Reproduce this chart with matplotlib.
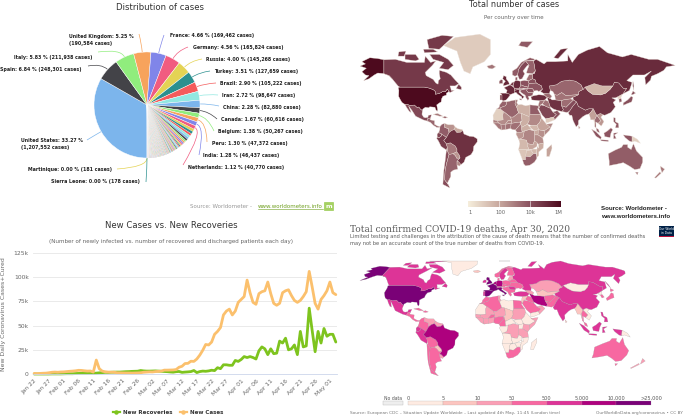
import numpy as np
import matplotlib
matplotlib.use('Agg')
import matplotlib.pyplot as plt
from matplotlib.colors import LinearSegmentedColormap
from matplotlib.patches import Polygon, PathPatch, Rectangle
from matplotlib.path import Path

W, H = 685, 416

# pie data: percent of world cases
pie_labels = ['United States: 33.27 %\n(1,207,552 cases)', 'Spain: 6.84 % (248,301 cases)',
              'Italy: 5.83 % (211,938 cases)', 'United Kingdom: 5.25 %\n(190,584 cases)',
              'France: 4.66 % (169,462 cases)', 'Germany: 4.56 % (165,824 cases)',
              'Russia: 4.00 % (145,268 cases)', 'Turkey: 3.51 % (127,659 cases)',
              'Brazil: 2.90 % (105,222 cases)', 'Iran: 2.72 % (98,647 cases)',
              'China: 2.28 % (82,880 cases)', 'Canada: 1.67 % (60,616 cases)',
              'Belgium: 1.38 % (50,267 cases)', 'Peru: 1.30 % (47,372 cases)',
              'India: 1.28 % (46,437 cases)', 'Netherlands: 1.12 % (40,770 cases)']
pie_pct = [33.27, 6.84, 5.83, 5.25, 4.66, 4.56, 4.00, 3.51, 2.90, 2.72, 2.28, 1.67, 1.38, 1.30, 1.28, 1.12]
other_pct = [.80, .78, .72, .70, .62, .58, .52, .50, .46, .42,
             .38, .36, .34, .32, .30, .28, .27, .26, .25, .24,
             .23, .22, .21, .20, .19, .18, .17, .16, .15, .14,
             .13, .12, .11, .10, .10, .09, .09, .09, .09, .09,
             .09, .09, .09, .09, .09, .08, .08, .08, .08, .08,
             .08, .08, .08, .08, .08, .08, .08, .08, .08, .08,
             .07, .07, .07, .07, .07, .07, .07, .07, .07, .07,
             .07, .07, .07, .07, .07, .07, .07, .07, .07, .07,
             .06, .06, .06, .06, .06, .06, .06, .06, .06, .06,
             .06, .06, .06, .06, .06, .06, .06, .06, .06, .06,
             .05, .05, .05, .05, .05, .05, .05, .05, .05, .05,
             .05, .05, .05, .05, .05, .03, .03, .03, .03, .03,
             .03, .03, .03, .03, .03, .03, .03, .03, .03, .03]
tail_labels = ['Martinique: 0.00 % (181 cases)', 'Sierra Leone: 0.00 % (178 cases)']
tail_pct = [0.005, 0.005]
highcharts = ['#7cb5ec', '#434348', '#90ed7d', '#f7a35c', '#8085e9', '#f15c80', '#e4d354', '#2b908f', '#f45b5b', '#91e8e1']

# where the pie labels sit: x, y, ha, then the end of the connector
label_x = [21, 82, 92, 69, 170, 193, 206, 214, 220, 222, 223, 221, 218, 212, 203, 188, 112, 140]
label_y = [144.5, 69, 57, 40, 36, 48, 60, 72, 84, 96, 107.5, 119.5, 131, 143, 155, 167, 170, 182]
label_ha = ['left', 'right', 'right', 'left', 'left', 'left', 'left', 'left', 'left', 'left', 'left',
            'left', 'left', 'left', 'left', 'left', 'right', 'right']
conn_x = [87, 88, 98, 139, 164, 188, 202, 210, 216, 218, 219, 217, 214, 207, 199, 183, 117, 146]
conn_y = [140, 66, 52, 34, 35, 47, 59, 71, 83, 95, 106, 119, 131, 142, 155, 165, 169, 182]

# daily numbers in thousands, Jan 22 to May 3
new_recoveries = [0, 0, 0, 0, 0, 0, .1, .1, .1, .1,
                  .2, .3, .3, .3, .5, .6, .7, .7, .7, .8, .7, .9, 1.2, 1.4, 1.7, 1.6, 1.8, 1.9, 2.0, 2.0,
                  2.2, 2.4, 2.5, 2.7, 2.8, 2.9, 3.6, 3.2, 3.0,
                  3.0, 3.1, 3.2, 3.0, 2.8, 2.6, 2.4, 2.1, 1.9, 2.4, 2.6, 1.7, 2.0, 2.2, 2.5, 3.6, 1.5, 2.5, 3.0, 2.8,
                  3.2, 3.9, 3.5, 6.5, 5.5, 9.5, 9.5, 9.0, 9.0, 14, 13,
                  15, 18, 17, 18, 17, 15.5, 24, 28, 26, 20, 26, 21, 21.5, 34, 32, 37, 25, 26, 30, 20,
                  44, 28, 29, 68, 45, 23, 44, 32, 47, 39,
                  41, 41, 33]
new_cases = [.6, .4, .6, .8, .9, 1.3, 1.8, 2.0, 1.8, 2.1,
             2.2, 2.5, 2.8, 3.0, 3.3, 3.8, 3.7, 3.3, 3.0, 3.1, 2.0, 14.4, 5.5, 3.0, 2.3, 2.0, 1.9, 1.9, 1.3, 1.2,
             1.1, 1.0, 1.0, .9, 1.0, 1.1, 1.3, 1.8, 2.0,
             2.2, 2.1, 2.5, 2.7, 3.0, 4.0, 4.0, 4.1, 4.2, 4.6, 7.0, 8.0, 10.8, 11.0, 13.2, 13.0, 15.5, 19.5, 24.5, 30.5,
             30, 33, 41, 44, 48, 61, 65, 67, 61, 65, 74,
             77, 80, 97, 84, 74, 72, 83, 85, 86, 95, 83, 73, 71, 73, 84, 86, 87, 81, 76, 74,
             76, 80, 85, 106, 90, 73, 67, 77, 81, 86,
             95, 84, 82]
date_labels = ['Jan 22', 'Jan 27', 'Feb 01', 'Feb 06', 'Feb 11', 'Feb 16', 'Feb 21', 'Feb 26', 'Mar 02', 'Mar 07',
               'Mar 12', 'Mar 17', 'Mar 22', 'Mar 27', 'Apr 01', 'Apr 06', 'Apr 11', 'Apr 16', 'Apr 21', 'Apr 26', 'May 01']
y_ticks = [0, 25, 50, 75, 100, 125]
y_labels = ['0', '25k', '50k', '75k', '100k', '125k']

# rough country outlines (lon, lat), then cases and death bin per name
outlines = {
    'USA': [(-124.7, 48.4), (-123, 49), (-95, 49), (-89, 48), (-84.5, 46.5), (-82.5, 45), (-82.5, 42.5), (-79, 43), (-76, 44), (-74.5, 45), (-71, 45), (-69, 47.3), (-67, 45), (-70, 43.5), (-70, 41.7), (-74, 40.5), (-75.5, 38), (-76, 35), (-78, 34), (-81, 32), (-80, 27), (-80.5, 25.2), (-82, 27), (-83, 29.5), (-85, 29.7), (-89, 30), (-90, 29), (-94, 29.5), (-97, 27.5), (-97.2, 26), (-99.5, 27.5), (-101.5, 29.8), (-103, 29), (-106.5, 31.8), (-111, 31.3), (-114.8, 32.5), (-117.2, 32.5), (-120.5, 34.5), (-122.5, 37.5), (-124.3, 40.5), (-124, 46)],
    'Alaska': [(-141, 69.7), (-141, 60), (-135, 58.5), (-131, 55.5), (-134, 58), (-140, 60), (-148, 60.5), (-152, 59), (-158, 56), (-164, 54.5), (-158, 58.5), (-162, 59), (-166, 61.5), (-161, 64), (-168, 65.5), (-162, 67), (-166, 68.5), (-157, 71), (-148, 70.5)],
    'Canada': [(-141, 69.7), (-128, 70), (-115, 68), (-95, 68), (-94, 72), (-88, 68), (-82, 69), (-86, 66), (-94, 61), (-93, 58.5), (-85, 55.5), (-82, 52.5), (-79.5, 51.5), (-79, 54.5), (-77, 56), (-78, 60), (-78, 62.5), (-70, 61), (-65, 59), (-60, 55), (-56, 52), (-60, 50), (-66, 50), (-65, 48), (-64.5, 46), (-61, 46), (-66, 44), (-67, 45), (-69, 47.3), (-71, 45), (-74.5, 45), (-76, 44), (-79, 43), (-82.5, 42.5), (-82.5, 45), (-84.5, 46.5), (-89, 48), (-95, 49), (-123, 49), (-125, 50), (-130, 54.5), (-131, 55.5), (-135, 58.5), (-141, 60)],
    'Baffin': [(-62, 66), (-68, 63), (-78, 64), (-73, 68), (-85, 70), (-89, 73), (-78, 73), (-68, 70)],
    'Victoria': [(-117, 70), (-105, 69), (-101, 70), (-105, 73), (-117, 73)],
    'Ellesmere': [(-90, 76.5), (-78, 76), (-62, 82.5), (-75, 83), (-92, 81)],
    'Banks': [(-125, 72), (-118, 72), (-116, 75), (-124, 74.5)],
    'Devon': [(-95, 74), (-80, 74.5), (-85, 76), (-96, 76)],
    'Newfoundland': [(-59, 47.7), (-53, 46.7), (-53, 49), (-56, 51.5)],
    'Greenland': [(-73, 78), (-60, 82), (-32, 83.5), (-20, 81), (-20, 73), (-27, 68.5), (-40, 65), (-43, 60), (-50, 62), (-54, 68), (-58, 75)],
    'Mexico': [(-117.2, 32.5), (-114.8, 32.5), (-111, 31.3), (-106.5, 31.8), (-103, 29), (-101.5, 29.8), (-99.5, 27.5), (-97.2, 26), (-97.8, 22), (-96, 19), (-94, 18.2), (-91, 18.7), (-90.5, 21), (-87, 21.5), (-88, 18), (-91, 17.5), (-92, 14.7), (-96, 15.8), (-105, 20), (-109, 26), (-113, 31), (-110, 24), (-112, 25), (-115, 29)],
    'CentralAm': [(-92, 14.7), (-91, 17.5), (-88, 18), (-88.5, 16), (-83.5, 15), (-83.5, 11), (-80, 9), (-77.3, 8.5), (-78, 7.5), (-81, 7.5), (-85, 10), (-88, 13)],
    'Cuba': [(-85, 22), (-80, 23), (-74, 20), (-78, 20)],
    'Hispaniola': [(-74.5, 18.5), (-72, 20), (-68.5, 18.5), (-71.5, 17.8)],
    'Colombia': [(-77.3, 8.5), (-75, 11), (-72, 12), (-72, 7.5), (-67.5, 6), (-67, 1.5), (-70, -4), (-72, -2.5), (-75.5, 0), (-78.8, 1.5), (-77.5, 5)],
    'Venezuela': [(-72, 12), (-68, 10.5), (-62, 10.5), (-60, 8), (-61, 5), (-64, 4), (-67, 1.5), (-67.5, 6), (-72, 7.5)],
    'Guianas': [(-60, 8), (-57, 6), (-52, 5), (-51.5, 4), (-54, 2), (-58, 1.5), (-60, 4), (-61, 5)],
    'Ecuador': [(-78.8, 1.5), (-75.5, 0), (-75.5, -2), (-78.5, -4.5), (-80.5, -3), (-80.5, 0)],
    'Peru': [(-80.5, -3.5), (-78.5, -4.5), (-75.5, -2), (-75.5, 0), (-72, -2.5), (-70, -4), (-73, -7.5), (-70, -11), (-69, -15), (-70, -18), (-76, -14), (-79, -8), (-81, -5)],
    'Bolivia': [(-70, -11), (-65.5, -10), (-60, -13.5), (-58, -17), (-58, -20), (-62.5, -22), (-67, -23), (-69, -19), (-69, -15)],
    'Paraguay': [(-62.5, -22), (-58, -20), (-55, -24), (-54.5, -26.5), (-58, -27.2), (-60, -24)],
    'Uruguay': [(-58, -30.5), (-56, -30.5), (-53.5, -33), (-55, -35), (-58, -34)],
    'Brazil': [(-70, -4), (-67, 1.5), (-64, 4), (-61, 5), (-60, 4), (-58, 1.5), (-54, 2), (-51.5, 4), (-50, 0), (-44, -2.5), (-39, -3), (-35, -5.5), (-35, -9), (-39, -14), (-39.5, -19), (-42, -23), (-48, -26), (-50, -31), (-53.5, -33.5), (-56, -30.5), (-58, -30), (-54.5, -26.5), (-55, -24), (-58, -20), (-58, -17), (-60, -13.5), (-65.5, -10), (-70, -11), (-73, -7.5)],
    'Chile': [(-70, -18), (-69, -19), (-67, -23), (-70, -33), (-71.5, -40), (-72, -48), (-68, -52), (-66, -55), (-74, -52), (-73, -40), (-71.5, -30)],
    'Argentina': [(-67, -23), (-62.5, -22), (-60, -24), (-58, -27.2), (-54.5, -26.5), (-58, -30), (-58, -34), (-57, -38), (-62, -39), (-65, -41), (-65, -45), (-69, -51), (-68, -52), (-72, -48), (-71.5, -40), (-70, -33)],
    'Morocco': [(-13, 27.7), (-8.7, 27.7), (-8.7, 29), (-3, 31), (-1.5, 33), (-2, 35), (-6, 35.8), (-9.5, 32), (-10, 29.5)],
    'Mauritania': [(-17, 21), (-13, 27.7), (-8.7, 27.7), (-5, 25), (-6, 21), (-5.5, 16), (-12, 15), (-16.5, 16)],
    'Algeria': [(-8.7, 27.7), (-8.7, 29), (-3, 31), (-1.5, 33), (-2, 35), (8.5, 37), (8, 33), (9.8, 30), (12, 23.5), (6, 19), (3, 19), (-5, 25)],
    'Tunisia': [(8.5, 37), (11, 37), (10, 34), (11.5, 32), (9.8, 30), (8, 33)],
    'Libya': [(11.5, 32), (15, 32.5), (20, 31), (25, 32), (25, 20), (24, 19.5), (15, 23), (12, 23.5), (9.8, 30)],
    'Egypt': [(25, 32), (31, 31.5), (34, 31), (35, 28), (33.5, 28), (37, 22), (25, 22)],
    'Mali': [(-12, 15), (-5.5, 16), (-6, 21), (-5, 25), (3, 19), (4, 15), (0, 15), (-3, 11), (-8, 11), (-11, 12.5)],
    'Niger': [(4, 15), (3, 19), (6, 19), (12, 23.5), (15, 23), (16, 15), (13.5, 13.5), (3.5, 12)],
    'Chad': [(15, 23), (24, 19.5), (24, 15), (22, 11), (15.5, 7.5), (14, 12.5), (16, 15)],
    'Sudan': [(24, 19.5), (25, 22), (37, 22), (38, 18), (36, 13), (33, 10), (27, 9.5), (22, 11), (24, 15)],
    'SouthSudan': [(27, 9.5), (33, 10), (35, 5), (30, 3.5), (24, 8.5)],
    'Ethiopia': [(36, 13), (38, 18), (43, 12), (48, 8), (42, 4), (36, 4.5), (35, 5), (33, 10)],
    'Somalia': [(43, 11), (51, 12), (47, 4), (41.5, -1.5), (41, 3.5), (48, 8)],
    'Kenya': [(35, 5), (36, 4.5), (41, 3.5), (41.5, -1.5), (39.5, -4.5), (34, -1), (34, 4)],
    'Tanzania': [(30, -1), (34, -1), (39.5, -4.5), (40.5, -10.5), (34.5, -11.5), (30, -8)],
    'Uganda': [(30, 3.5), (35, 5), (34, -1), (30, -1)],
    'DRC': [(12.2, -6), (17, -4), (18.5, 3.5), (24, 5), (30, 3.5), (30, -8), (28.5, -12), (22, -11), (21, -7), (13, -6)],
    'Angola': [(12, -5), (13, -6), (21, -7), (22, -11), (22, -13), (24, -17.5), (12, -17.5), (13.5, -11)],
    'Zambia': [(22, -11), (28.5, -12), (30, -8), (33, -9.5), (33, -14), (28, -17), (24, -17.5), (22, -13)],
    'Namibia': [(12, -17.5), (24, -17.5), (21, -18.5), (20, -28.5), (16.5, -28.5)],
    'Botswana': [(21, -18.5), (26, -18), (29, -22), (25, -25.5), (20, -25)],
    'Zimbabwe': [(26, -18), (28, -17), (33, -17), (32.5, -21), (29, -22)],
    'Mozambique': [(34.5, -11.5), (40.5, -10.5), (40, -16), (35, -20), (35, -24), (32.8, -26), (32.5, -21), (33, -17), (33, -14), (35, -16)],
    'SouthAfrica': [(16.5, -28.5), (20, -28.5), (20, -25), (25, -25.5), (29, -22), (32, -22), (32.8, -27), (30, -31), (25, -34), (20, -34.8), (18, -33)],
    'Madagascar': [(49.5, -12), (50, -16), (47, -25), (44, -25), (44, -17)],
    'Nigeria': [(3, 6.3), (3.5, 12), (13.5, 13.5), (14, 11), (8.5, 4.6), (5, 5)],
    'Cameroon': [(8.5, 4.6), (14, 11), (14, 12.5), (15.5, 7.5), (16, 2), (10, 2)],
    'CAR': [(15.5, 7.5), (22, 11), (27, 5), (24, 5), (18.5, 3.5), (16, 2.5)],
    'Gabon': [(9, 0), (10, 2), (16, 2), (18.5, 3.5), (17, -4), (12.2, -6)],
    'Senegal': [(-17, 15), (-16.5, 16), (-12, 15), (-11, 12.5), (-16.5, 12.5)],
    'Guinea': [(-16.5, 12.5), (-11, 12.5), (-8, 11), (-7.5, 4.5), (-11, 6.5), (-13.5, 9.5)],
    'Ivory': [(-8, 11), (-3, 11), (-3, 5), (-7.5, 4.5)],
    'Burkina': [(-3, 11), (0, 15), (4, 15), (3.5, 12)],
    'Ghana': [(-3, 11), (3.5, 12), (3, 6.3), (-3, 5)],
    'Saudi': [(35, 28), (37, 32), (42, 31), (48, 28.5), (51, 24.5), (55, 22), (52, 19), (43, 17), (39, 21)],
    'Yemen': [(43, 17), (52, 19), (53, 16), (45, 12.8), (43, 13)],
    'Oman': [(51, 24.5), (56, 26), (59.5, 22.5), (53, 16), (52, 19), (55, 22)],
    'Iraq': [(39, 33), (42, 37), (46, 35.5), (48, 30), (48, 28.5), (42, 31)],
    'Syria': [(35.8, 36), (42, 37), (39, 33), (37, 32), (35, 28), (34.3, 31)],
    'Turkey': [(26, 40), (27, 37), (36, 36.2), (42, 37), (44.5, 39.5), (41.5, 41.5), (35, 42), (29, 41)],
    'Iran': [(44.5, 39.5), (48, 38.5), (50, 37), (54, 37), (61, 36.5), (61, 31), (63, 27), (61.5, 25), (57, 26), (52, 27.5), (48, 30), (46, 35.5)],
    'Afghanistan': [(61, 36.5), (65, 37.5), (71, 38), (74.5, 37), (71, 34), (66, 29.5), (61, 31)],
    'Pakistan': [(61, 31), (66, 29.5), (71, 34), (74.5, 37), (78, 35), (74, 31), (70, 25.5), (67, 24), (61.5, 25), (63, 27)],
    'India': [(74, 31), (78, 35), (80, 30.5), (88, 26.5), (92, 28), (97, 28), (94, 24), (92, 22.5), (88.5, 21.5), (85, 19.5), (80, 15), (80, 11), (77.5, 8), (74, 15), (72.5, 21), (70, 21), (68.5, 23.5), (70, 25.5)],
    'SriLanka': [(80, 9.5), (82, 7), (80.5, 6)],
    'Myanmar': [(92, 22.5), (94, 24), (97, 28), (99, 24), (101, 21), (98.5, 16), (98.5, 10), (97.5, 16), (94, 16), (93, 20)],
    'Thailand': [(98.5, 16), (101, 21), (105.5, 15), (102.5, 12), (100, 13.5), (100, 7), (98.5, 8.5), (99, 13)],
    'Vietnam': [(101, 21), (105, 23), (108, 21.5), (105.5, 19), (109, 14), (106, 9), (102.5, 12), (105.5, 15)],
    'Malaya': [(100, 7), (103, 5), (104, 1.5), (101, 3)],
    'Sumatra': [(95, 5.5), (100, 2.5), (106, -3.5), (105.5, -6), (100, -2.5)],
    'Java': [(105, -6.5), (114, -7), (114, -8.5), (106, -7.8)],
    'Borneo': [(109, 1), (113, 3.5), (117, 7), (119, 5), (117, 1), (116, -4), (110, -3)],
    'Sulawesi': [(120, 1), (125, 1.5), (121, -1), (123, -5), (120, -5.5)],
    'Papua': [(131, -1), (141, -2.5), (141, -9), (138, -8), (133, -4)],
    'PNG': [(141, -2.5), (147, -6), (150.5, -10.5), (144, -8), (141, -9)],
    'Philippines': [(120, 18.5), (122, 18), (122, 14), (125.5, 12), (126, 7), (122, 7), (123, 11), (120, 14)],
    'Honshu': [(131, 34), (136, 37), (140, 40.5), (142, 39.5), (140.5, 35), (136, 33.5), (131, 31.5)],
    'Hokkaido': [(140, 42), (142, 45.5), (145, 43.5), (141.5, 42)],
    'NKorea': [(124.5, 40), (130, 42.5), (128, 38.5), (125, 37.8)],
    'SKorea': [(126, 37.7), (128.5, 38.5), (129.5, 35.5), (126.5, 34.5)],
    'China': [(73.5, 39.5), (80, 42), (80.5, 45), (85.5, 47), (87.5, 49), (91, 45.5), (96, 42.5), (105, 41.8), (111, 43.5), (116, 47), (119, 50), (121, 53.3), (126, 52.5), (131, 48), (135, 48), (131, 43), (124.5, 40), (122, 39), (118, 39), (122.5, 37), (119.5, 34.5), (122, 30), (117, 24), (110, 21), (108, 21.5), (105, 23), (101, 21), (99, 24), (97, 28), (92, 28), (88, 26.5), (80, 30.5), (78, 35), (74.5, 37)],
    'Mongolia': [(87.5, 49), (98, 52), (107, 50), (116, 50), (119, 50), (116, 47), (111, 43.5), (105, 41.8), (96, 42.5), (91, 45.5)],
    'Kazakhstan': [(47, 50), (48, 46), (51, 45), (53, 42), (56, 41.5), (61, 44), (66, 41), (70, 41.5), (80, 42), (80.5, 45), (85.5, 47), (83, 51), (77, 54), (70, 55), (61, 54), (55, 51)],
    'Uzbekistan': [(53, 42), (54, 37), (61, 36.5), (65, 37.5), (71, 38), (73.5, 39.5), (80, 42), (70, 41.5), (66, 41), (61, 44), (56, 41.5)],
    'Caucasus': [(41.5, 41.5), (44.5, 39.5), (48, 38.5), (50, 40.5), (47, 43), (40, 43.5)],
    'Russia': [(28, 56), (28, 60), (30, 60), (31, 62), (29, 69), (32, 70), (41, 67), (44, 68.5), (54, 68.5), (68, 69), (68, 73), (73, 68), (80, 73), (90, 75.5), (104, 77.5), (113, 74), (130, 71.5), (140, 73), (160, 70), (170, 70), (190, 66), (180, 65), (177, 62.5), (170, 60), (163, 58), (162, 55), (156.5, 51), (155.5, 57), (163, 62), (155, 59), (142, 59), (135, 54.5), (141, 53), (138, 46), (131, 43), (135, 48), (131, 48), (126, 52.5), (121, 53.3), (119, 50), (116, 50), (107, 50), (98, 52), (87.5, 49), (85.5, 47), (83, 51), (77, 54), (70, 55), (61, 54), (55, 51), (47, 50), (48, 46), (47, 43), (40, 43.5), (37, 45), (39, 47), (38, 50), (32, 52.5), (31, 55)],
    'Sakhalin': [(142, 54), (143, 50), (143, 46), (141.8, 50)],
    'Novaya': [(52, 71), (57, 70.5), (68, 76.5), (60, 76)],
    'Svalbard': [(12, 78), (22, 77), (28, 80), (15, 80)],
    'Iceland': [(-24, 65.5), (-18, 66.5), (-14, 65), (-18, 63.5), (-22, 64)],
    'Britain': [(-5.5, 50), (1.5, 51.5), (1, 53), (-2, 56), (-2, 57.7), (-5, 58.5), (-6, 56), (-3, 54), (-5, 52)],
    'Ireland': [(-10, 52), (-6, 52.2), (-6, 55), (-8, 55.3), (-10, 54)],
    'Norway': [(5, 59), (8, 58), (11, 59), (12, 63), (15, 66), (20, 69), (29, 69.5), (31, 70), (25, 71), (15, 68), (10, 64), (5, 62)],
    'Sweden': [(11, 59), (13, 55.5), (16, 56), (19, 60), (17, 62), (22, 66), (24, 66), (20, 69), (15, 66), (12, 63)],
    'Finland': [(24, 66), (22, 63), (21, 60.5), (28, 60), (31, 62), (29, 69), (20, 69)],
    'Spain': [(-9, 43.5), (-2, 43.5), (3, 42.3), (0, 39), (-2, 37), (-5.5, 36), (-7, 37), (-7, 42)],
    'Portugal': [(-9, 42), (-7, 42), (-7, 37), (-9, 37)],
    'France': [(-2, 43.5), (3, 42.3), (7.5, 43.7), (7, 48.5), (2.5, 51), (-1.5, 49.5), (-4.5, 48.5), (-1, 46)],
    'Benelux': [(2.5, 51), (6, 50), (7, 53.5), (4.5, 52.8)],
    'Germany': [(6, 50), (7.5, 47.5), (13, 47.6), (14.5, 51), (14, 54), (9, 54.8), (7, 53.5)],
    'Denmark': [(8.2, 55), (10.5, 55), (10.5, 57.5), (8.5, 57)],
    'Austria': [(7, 46), (7.5, 47.5), (13, 47.6), (17, 48), (16, 46.7), (12, 46.8)],
    'Italy': [(7.5, 43.7), (7, 46), (12, 46.8), (13.5, 45.7), (12.3, 44.5), (16, 41.5), (18.5, 40), (16, 38), (15.5, 40), (11, 42.5), (9, 44.3)],
    'Sicily': [(12.5, 38), (15.5, 38), (15, 36.7)],
    'Poland': [(14, 54), (14.5, 51), (19, 49.5), (23, 49), (24, 52), (23, 54.2), (18.5, 54.7)],
    'Czechia': [(13, 47.6), (14.5, 51), (19, 49.5), (23, 49), (22, 47.5), (17, 48)],
    'Baltics': [(21, 55.5), (23, 54.2), (27, 55.7), (28, 56), (28, 59.5), (24, 59.3)],
    'Belarus': [(23, 54.2), (24, 52), (32, 52.5), (31, 55), (28, 56), (27, 55.7)],
    'Ukraine': [(24, 52), (23, 49), (22, 47.5), (28, 47.5), (29.5, 45.5), (33, 46), (35, 45), (39, 47), (38, 50), (32, 52.5)],
    'Romania': [(22, 47.5), (21, 46), (23, 44), (28.5, 43.8), (29.5, 45.2), (28, 47.5)],
    'Balkans': [(13.5, 45.7), (16, 46.7), (22, 47.5), (21, 46), (23, 44), (28.5, 43.8), (28, 41.5), (26, 40.8), (23, 40.5), (24, 38), (22.5, 36.5), (20.5, 39), (19.5, 41.5), (15, 44)],
    'Australia': [(114, -22), (122, -18), (129, -15), (131, -12), (136, -12), (136, -15), (140, -17.5), (142.5, -11), (146, -19), (153, -26), (153, -31), (150, -37.5), (144, -38.5), (138, -35), (131, -31.5), (124, -33), (115, -34.5), (115, -30)],
    'Tasmania': [(144.7, -41), (148, -41), (147, -43.5)],
    'NZNorth': [(173, -35), (178, -38), (175, -41.5), (174, -39)],
    'NZSouth': [(172.5, -40.7), (174, -42), (168, -46.5), (166.5, -46)],
}
cases = {'USA': 1200000, 'Alaska': 1200000, 'Canada': 60000, 'Baffin': 60000, 'Victoria': 60000, 'Ellesmere': 60000, 'Banks': 60000,
         'Devon': 60000, 'Newfoundland': 60000, 'Greenland': 11, 'Mexico': 23000, 'CentralAm': 4000, 'Cuba': 1500, 'Hispaniola': 6000,
         'Colombia': 7000, 'Venezuela': 350, 'Guianas': 100, 'Ecuador': 29000, 'Peru': 47000, 'Bolivia': 1500, 'Paraguay': 300,
         'Uruguay': 650, 'Brazil': 105000, 'Chile': 18000, 'Argentina': 4700, 'Morocco': 5000, 'Mauritania': 8, 'Algeria': 4500,
         'Tunisia': 1000, 'Libya': 60, 'Egypt': 6500, 'Mali': 500, 'Niger': 700, 'Chad': 70, 'Sudan': 600, 'SouthSudan': 40,
         'Ethiopia': 130, 'Somalia': 600, 'Kenya': 400, 'Tanzania': 480, 'Uganda': 85, 'DRC': 700, 'Angola': 35, 'Zambia': 120,
         'Namibia': 16, 'Botswana': 23, 'Zimbabwe': 34, 'Mozambique': 80, 'SouthAfrica': 6300, 'Madagascar': 135, 'Nigeria': 2400,
         'Cameroon': 2000, 'CAR': 70, 'Gabon': 280, 'Senegal': 1100, 'Guinea': 1500, 'Ivory': 1400, 'Burkina': 650, 'Ghana': 2000,
         'Saudi': 27000, 'Yemen': 10, 'Oman': 14000, 'Iraq': 2200, 'Syria': 2000, 'Turkey': 127000, 'Iran': 98000, 'Afghanistan': 2700,
         'Pakistan': 19000, 'India': 46000, 'SriLanka': 700, 'Myanmar': 160, 'Thailand': 3000, 'Vietnam': 270, 'Malaya': 6300,
         'Sumatra': 11000, 'Java': 11000, 'Borneo': 11000, 'Sulawesi': 11000, 'Papua': 11000, 'PNG': 8, 'Philippines': 9200,
         'Honshu': 15000, 'Hokkaido': 15000, 'NKorea': 5, 'SKorea': 10800, 'China': 83000, 'Mongolia': 40, 'Kazakhstan': 4000,
         'Uzbekistan': 2000, 'Caucasus': 3000, 'Russia': 145000, 'Sakhalin': 145000, 'Novaya': 145000, 'Svalbard': 8000, 'Iceland': 1800,
         'Britain': 190000, 'Ireland': 21000, 'Norway': 8000, 'Sweden': 23000, 'Finland': 5000, 'Spain': 248000, 'Portugal': 25000,
         'France': 169000, 'Benelux': 50000, 'Germany': 165000, 'Denmark': 10000, 'Austria': 30000, 'Italy': 211000, 'Sicily': 211000,
         'Poland': 13000, 'Czechia': 8000, 'Baltics': 3000, 'Belarus': 15000, 'Ukraine': 11000, 'Romania': 13000, 'Balkans': 9000,
         'Australia': 6800, 'Tasmania': 6800, 'NZNorth': 1500, 'NZSouth': 1500}
death_bin = {'USA': 6, 'Alaska': 6, 'Canada': 4, 'Baffin': 4, 'Victoria': 4, 'Ellesmere': 4, 'Banks': 4, 'Devon': 4, 'Newfoundland': 4,
             'Greenland': 0, 'Mexico': 4, 'CentralAm': 3, 'Cuba': 3, 'Hispaniola': 3, 'Colombia': 3, 'Venezuela': 2, 'Guianas': 2,
             'Ecuador': 4, 'Peru': 4, 'Bolivia': 3, 'Paraguay': 1, 'Uruguay': 2, 'Brazil': 5, 'Chile': 3, 'Argentina': 3, 'Morocco': 3,
             'Mauritania': 0, 'Algeria': 3, 'Tunisia': 2, 'Libya': 0, 'Egypt': 3, 'Mali': 2, 'Niger': 2, 'Chad': 1, 'Sudan': 2,
             'SouthSudan': 0, 'Ethiopia': 0, 'Somalia': 2, 'Kenya': 2, 'Tanzania': 2, 'Uganda': 0, 'DRC': 2, 'Angola': 0, 'Zambia': 0,
             'Namibia': 0, 'Botswana': 0, 'Zimbabwe': 0, 'Mozambique': 0, 'SouthAfrica': 3, 'Madagascar': 0, 'Nigeria': 3, 'Cameroon': 3,
             'CAR': 0, 'Gabon': 0, 'Senegal': 2, 'Guinea': 2, 'Ivory': 2, 'Burkina': 3, 'Ghana': 2, 'Saudi': 3, 'Yemen': 0, 'Oman': 2,
             'Iraq': 3, 'Syria': 1, 'Turkey': 4, 'Iran': 5, 'Afghanistan': 3, 'Pakistan': 3, 'India': 4, 'SriLanka': 1, 'Myanmar': 1,
             'Thailand': 3, 'Vietnam': 0, 'Malaya': 3, 'Sumatra': 4, 'Java': 4, 'Borneo': 4, 'Sulawesi': 4, 'Papua': 4, 'PNG': 0,
             'Philippines': 4, 'Honshu': 3, 'Hokkaido': 3, 'NKorea': 0, 'SKorea': 3, 'China': 4, 'Mongolia': 0, 'Kazakhstan': 2,
             'Uzbekistan': 1, 'Caucasus': 2, 'Russia': 4, 'Sakhalin': 4, 'Novaya': 4, 'Svalbard': 3, 'Iceland': 1, 'Britain': 6,
             'Ireland': 4, 'Norway': 3, 'Sweden': 4, 'Finland': 3, 'Spain': 6, 'Portugal': 4, 'France': 6, 'Benelux': 5, 'Germany': 5,
             'Denmark': 3, 'Austria': 3, 'Italy': 6, 'Sicily': 6, 'Poland': 3, 'Czechia': 3, 'Baltics': 2, 'Belarus': 3, 'Ukraine': 3,
             'Romania': 4, 'Balkans': 3, 'Australia': 3, 'Tasmania': 3, 'NZNorth': 2, 'NZSouth': 2}
owid_colors = ['#feebe2', '#fcc5c0', '#fa9fb5', '#f768a1', '#dd3497', '#ae017e', '#7a0177']
owid_ticks = ['0', '5', '10', '50', '500', '5,000', '10,000', '>25,000']
cases_cmap = LinearSegmentedColormap.from_list('cases', ['#f6eedc', '#c8a89e', '#8b5360', '#4d0a1e'])


def px_axes(fig, x0, y0, x1, y1):
    return fig.add_axes([x0 / W, 1 - y1 / H, (x1 - x0) / W, (y1 - y0) / H])


def miller(lon, lat):
    # top map, keeps high latitudes stretched
    m = 1.25 * np.log(np.tan(np.pi / 4 + 0.4 * np.radians(lat)))
    return 508 + 0.88 * lon, 134 - 50.4 * m


def owid_proj(lon, lat):
    # bottom map, roughly Robinson and cut at 180 / 77N
    lon = np.minimum(lon, 180)
    lat = np.minimum(lat, 77)
    f = 1 - 0.2 * (lat / 65) ** 2
    return 491 + 0.93 * lon * f, 328 - 0.87 * lat


def draw_map(ax, proj, colors, edge, lw):
    for name, pts in outlines.items():
        pts = np.array(pts, dtype=float)
        x, y = proj(pts[:, 0], pts[:, 1])
        ax.add_patch(Polygon(np.column_stack([x, y]), closed=True, facecolor=colors[name],
                             edgecolor=edge, linewidth=lw, zorder=2))


fig = plt.figure(figsize=(W / 100, H / 100), dpi=100, facecolor='white')

# overlay in pixel coordinates for text, maps and connectors
ov = fig.add_axes([0, 0, 1, 1])
ov.set_xlim(0, W)
ov.set_ylim(H, 0)
ov.axis('off')

# ---- pie ----
title_col = '#333333'
ov.text(160, 8, 'Distribution of cases', ha='center', va='center', fontsize=6.1, color=title_col)
pie_ax = px_axes(fig, 94, 52, 200, 158)
all_pct = pie_pct + other_pct + tail_pct
pie_cols = [highcharts[i % 10] for i in range(len(all_pct))]
wedges, _ = pie_ax.pie(all_pct, colors=pie_cols, startangle=270, counterclock=False, radius=1,
                       wedgeprops={'edgecolor': 'white', 'linewidth': 0.3})
for w in wedges[len(pie_pct):]:
    w.set_linewidth(0.12)
pie_ax.set_xlim(-1, 1)
pie_ax.set_ylim(-1, 1)

named = list(range(len(pie_pct))) + [len(all_pct) - 2, len(all_pct) - 1]
names = pie_labels + tail_labels
for j, idx in enumerate(named):
    w = wedges[idx]
    a = np.radians((w.theta1 + w.theta2) / 2)
    sx, sy = 147 + 53 * np.cos(a), 105 - 53 * np.sin(a)
    cx, cy = 147 + 62 * np.cos(a), 105 - 62 * np.sin(a)
    path = Path([(sx, sy), (cx, cy), (conn_x[j], conn_y[j])], [Path.MOVETO, Path.CURVE3, Path.CURVE3])
    ov.add_patch(PathPatch(path, facecolor='none', edgecolor=pie_cols[idx], linewidth=0.5))
    ov.text(label_x[j], label_y[j], names[j], ha=label_ha[j], va='center', fontsize=3.45, fontweight='bold',
            color='#222222', linespacing=1.5, multialignment='left')

ov.text(190, 206, 'Source: Worldometer -', ha='left', va='center', fontsize=4.0, color='#999999')
ov.text(258, 206, 'www.worldometers.info', ha='left', va='center', fontsize=3.95, color='#6f9f1f')
ov.plot([258, 323], [209, 209], color='#6f9f1f', lw=0.4)
ov.add_patch(Rectangle((324, 202), 9, 8, facecolor='#a6d163', edgecolor='#8cc63f', lw=0.4))
ov.text(328.5, 206, 'm', ha='center', va='center', fontsize=4.5, color='white', fontweight='bold')

# ---- line chart ----
ov.text(171, 225, 'New Cases vs. New Recoveries', ha='center', va='center', fontsize=6.15, color=title_col)
ov.text(171, 241, '(Number of newly infected vs. number of recovered and discharged patients each day)',
        ha='center', va='center', fontsize=4.05, color='#666666')
ax = px_axes(fig, 33, 253, 337, 374)
days = np.arange(len(new_cases))
ax.plot(days, new_recoveries, color='#7ec41e', lw=2.0, solid_capstyle='round', solid_joinstyle='round', clip_on=False)
ax.plot(days, new_cases, color='#fbc06d', lw=2.0, solid_capstyle='round', solid_joinstyle='round', clip_on=False)
ax.set_xlim(-0.4, 102.4)
ax.set_ylim(0, 125)
ax.set_yticks(y_ticks)
ax.set_yticklabels(y_labels, fontsize=4.3, color='#666666')
ax.set_xticks(np.arange(0, 103, 5))
ax.set_xticklabels(date_labels, fontsize=4.3, color='#666666', rotation=45, ha='right', rotation_mode='anchor')
ax.tick_params(axis='both', length=0, pad=3)
ax.grid(axis='y', color='#e6e6e6', lw=0.6)
ax.set_axisbelow(True)
for s in ['top', 'left', 'right']:
    ax.spines[s].set_visible(False)
ax.spines['bottom'].set_color('#ccd6eb')
ax.spines['bottom'].set_linewidth(0.6)
ax.set_facecolor('none')
ov.text(4, 314, 'New Daily Coronavirus Cases+Cured', rotation=90, ha='center', va='center', fontsize=4.4, color='#666666')
ov.plot([113, 120], [412, 412], color='#7ec41e', lw=1.6)
ov.plot([116.5], [412], 'o', color='#7ec41e', ms=2.2)
ov.text(123, 412, 'New Recoveries', ha='left', va='center', fontsize=4.0, fontweight='bold', color='#333333')
ov.plot([180, 187], [412, 412], color='#fbc06d', lw=1.6)
ov.plot([183.5], [412], 'o', color='#fbc06d', ms=2.2)
ov.text(190, 412, 'New Cases', ha='left', va='center', fontsize=4.0, fontweight='bold', color='#333333')

# ---- top map ----
ov.text(514, 4.5, 'Total number of cases', ha='center', va='center', fontsize=5.9, color=title_col)
ov.text(514, 18, 'Per country over time', ha='center', va='center', fontsize=4.0, color='#666666')
cols1 = {k: cases_cmap(np.log10(v) / 6.1) for k, v in cases.items()}
draw_map(ov, miller, cols1, '#eadfd6', 0.25)
bar = np.linspace(0, 1, 128)[None, :]
ov.imshow(bar, cmap=cases_cmap, extent=(468, 561, 207, 201), aspect='auto', zorder=3)
ov.set_xlim(0, W)
ov.set_ylim(H, 0)
for xt in [499, 530]:
    ov.plot([xt, xt], [201, 207], color='white', lw=0.4, zorder=4)
for xt, s in zip([470, 500, 530, 558], ['1', '100', '10k', '1M']):
    ov.text(xt, 213, s, ha='center', va='center', fontsize=3.8, color='#666666')
ov.text(601, 208, 'Source: Worldometer -', ha='left', va='center', fontsize=4.4, fontweight='bold', family='Liberation Sans', color='#222222')
ov.text(601, 216, 'www.worldometers.info', ha='left', va='center', fontsize=4.4, fontweight='bold', family='Liberation Sans', color='#222222')

# ---- bottom map ----
ov.text(350, 229, 'Total confirmed COVID-19 deaths, Apr 30, 2020', ha='left', va='center', fontsize=6.5,
        family='DejaVu Serif', color='#5b5b5b')
ov.text(350, 236.5, 'Limited testing and challenges in the attribution of the cause of death means that the number of confirmed deaths',
        ha='left', va='center', fontsize=3.7, color='#5b5b5b')
ov.text(350, 243, 'may not be an accurate count of the true number of deaths from COVID-19.',
        ha='left', va='center', fontsize=3.7, color='#5b5b5b')
ov.add_patch(Rectangle((659, 226), 15, 11, facecolor='#002147', edgecolor='none'))
ov.add_patch(Rectangle((659, 236), 15, 1.2, facecolor='#c0143c', edgecolor='none'))
ov.text(666.5, 231, 'Our World\nin Data', ha='center', va='center', fontsize=2.2, color='white', linespacing=1.0)
cols2 = {k: owid_colors[v] for k, v in death_bin.items()}
draw_map(ov, owid_proj, cols2, '#999999', 0.15)
ov.add_patch(Rectangle((383, 401), 20, 4, facecolor='#eeeeee', edgecolor='#bbbbbb', lw=0.3))
ov.text(393, 398, 'No data', ha='center', va='center', fontsize=3.3, color='#555555')
edges = np.linspace(408, 651, 8)
for i, c in enumerate(owid_colors):
    ov.add_patch(Rectangle((edges[i], 401), edges[i + 1] - edges[i], 4, facecolor=c, edgecolor='#999999', lw=0.15))
for xt, s in zip(edges, owid_ticks):
    ov.text(xt, 398, s, ha='center', va='center', fontsize=3.6, color='#555555')
ov.text(350, 413, 'Source: European CDC – Situation Update Worldwide – Last updated 4th May, 11:45 (London time)',
        ha='left', va='center', fontsize=3.05, color='#777777')
ov.text(683, 413, 'OurWorldInData.org/coronavirus • CC BY', ha='right', va='center', fontsize=3.05, color='#777777')

fig.savefig('out.png', dpi=100)
